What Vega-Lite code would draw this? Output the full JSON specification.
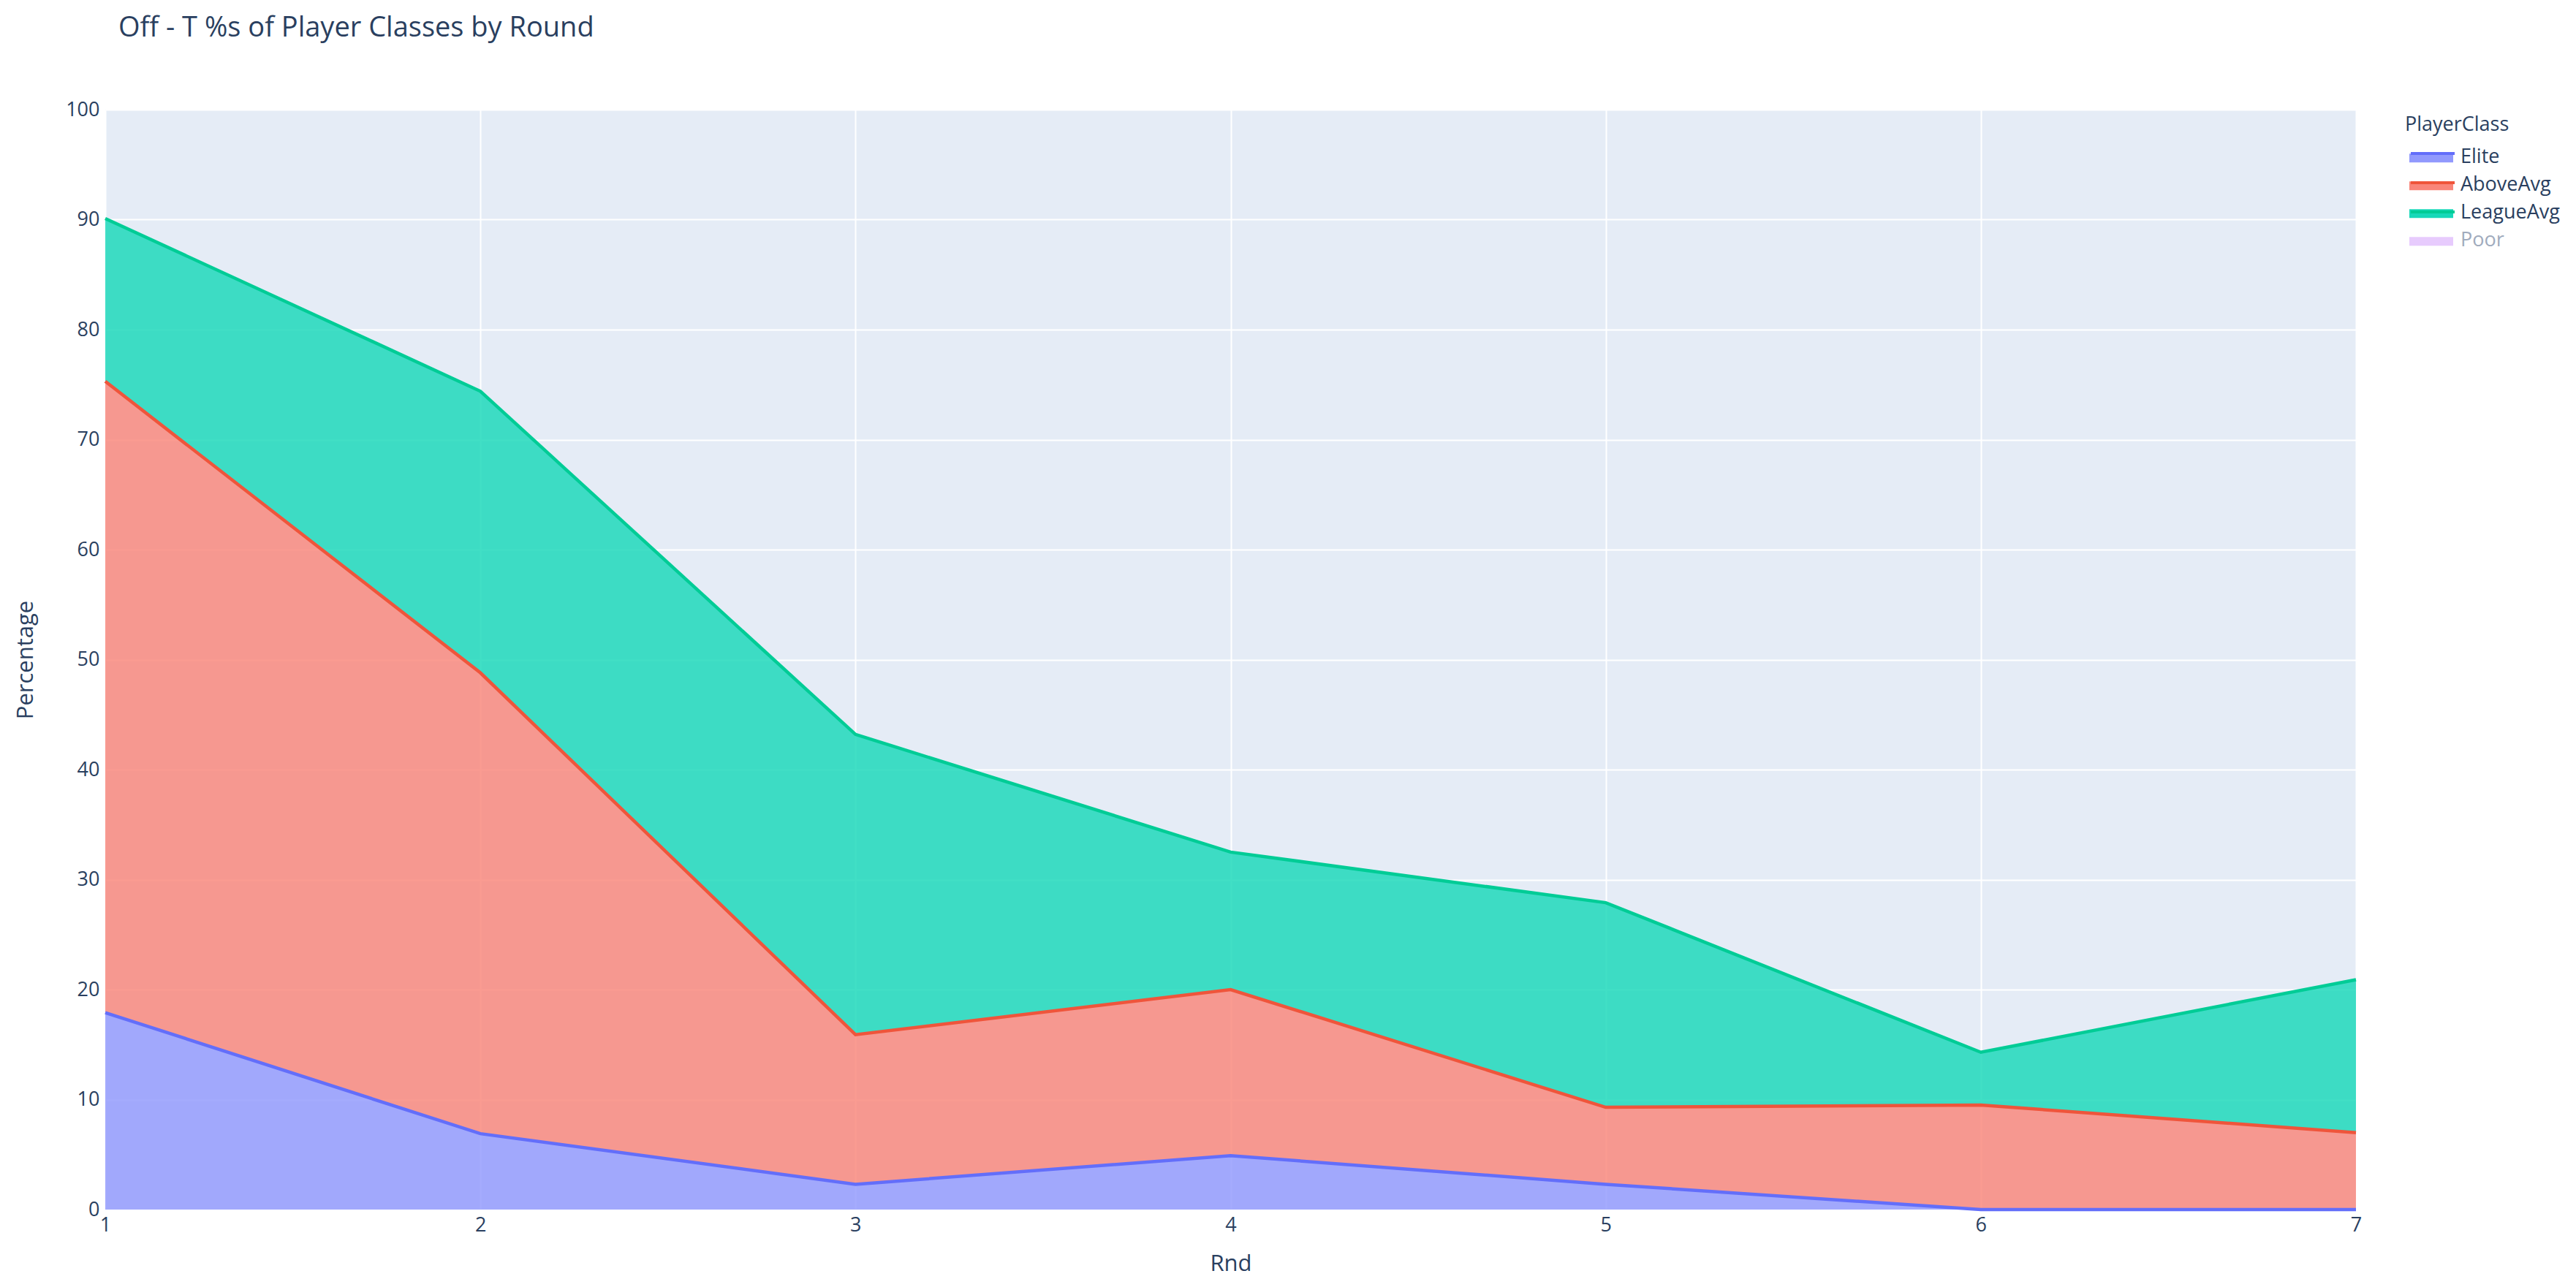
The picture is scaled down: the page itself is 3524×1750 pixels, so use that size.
{
  "$schema": "https://vega.github.io/schema/vega-lite/v6.json",
  "width": 3079,
  "height": 1505,
  "autosize": "none",
  "padding": {"left": 144, "top": 150, "right": 301, "bottom": 95},
  "background": "white",
  "title": {
    "text": "Off - T %s of Player Classes by Round",
    "anchor": "start",
    "frame": "group",
    "dx": 18,
    "offset": 78,
    "font": "Open Sans",
    "fontSize": 38,
    "fontWeight": "normal",
    "color": "#2a3f5f"
  },
  "data": {
    "values": [
      {"Rnd": 1, "PlayerClass": "Elite", "Percentage": 17.9},
      {"Rnd": 2, "PlayerClass": "Elite", "Percentage": 6.9},
      {"Rnd": 3, "PlayerClass": "Elite", "Percentage": 2.3},
      {"Rnd": 4, "PlayerClass": "Elite", "Percentage": 4.9},
      {"Rnd": 5, "PlayerClass": "Elite", "Percentage": 2.3},
      {"Rnd": 6, "PlayerClass": "Elite", "Percentage": 0},
      {"Rnd": 7, "PlayerClass": "Elite", "Percentage": 0},
      {"Rnd": 1, "PlayerClass": "AboveAvg", "Percentage": 57.4},
      {"Rnd": 2, "PlayerClass": "AboveAvg", "Percentage": 41.9},
      {"Rnd": 3, "PlayerClass": "AboveAvg", "Percentage": 13.6},
      {"Rnd": 4, "PlayerClass": "AboveAvg", "Percentage": 15.1},
      {"Rnd": 5, "PlayerClass": "AboveAvg", "Percentage": 7.0},
      {"Rnd": 6, "PlayerClass": "AboveAvg", "Percentage": 9.5},
      {"Rnd": 7, "PlayerClass": "AboveAvg", "Percentage": 7.0},
      {"Rnd": 1, "PlayerClass": "LeagueAvg", "Percentage": 14.8},
      {"Rnd": 2, "PlayerClass": "LeagueAvg", "Percentage": 25.6},
      {"Rnd": 3, "PlayerClass": "LeagueAvg", "Percentage": 27.3},
      {"Rnd": 4, "PlayerClass": "LeagueAvg", "Percentage": 12.5},
      {"Rnd": 5, "PlayerClass": "LeagueAvg", "Percentage": 18.6},
      {"Rnd": 6, "PlayerClass": "LeagueAvg", "Percentage": 4.8},
      {"Rnd": 7, "PlayerClass": "LeagueAvg", "Percentage": 13.9}
    ]
  },
  "transform": [
    {"calculate": "indexof(['Elite', 'AboveAvg', 'LeagueAvg', 'Poor'], datum.PlayerClass)", "as": "stackOrder"},
    {
      "stack": "Percentage",
      "groupby": ["Rnd"],
      "sort": [{"field": "stackOrder", "order": "ascending"}],
      "as": ["lower", "upper"]
    }
  ],
  "encoding": {
    "x": {
      "field": "Rnd",
      "type": "quantitative",
      "title": "Rnd",
      "scale": {"domain": [1, 7], "nice": false, "zero": false},
      "axis": {"values": [1, 2, 3, 4, 5, 6, 7], "format": "d", "titlePadding": 25}
    },
    "y": {
      "field": "upper",
      "type": "quantitative",
      "title": "Percentage",
      "scale": {"domain": [0, 100], "nice": false},
      "axis": {"values": [0, 10, 20, 30, 40, 50, 60, 70, 80, 90, 100], "titlePadding": 38}
    }
  },
  "layer": [
    {
      "mark": {"type": "area", "fillOpacity": 0.82, "interpolate": "linear"},
      "encoding": {
        "y2": {"field": "lower"},
        "color": {
          "field": "PlayerClass",
          "type": "nominal",
          "title": "PlayerClass",
          "scale": {
            "domain": ["Elite", "AboveAvg", "LeagueAvg", "Poor"],
            "range": ["#9199fd", "#f98579", "#17d8b8", "#c98cfb"]
          },
          "legend": {
            "orient": "none",
            "legendX": 3146,
            "legendY": 8,
            "symbolType": "M-2,-0.32H2V0.48H-2Z",
            "symbolSize": 900,
            "symbolOffset": 21,
            "symbolFillOpacity": 0.75,
            "symbolStrokeWidth": 0,
            "labelOffset": 25,
            "rowPadding": 10,
            "titlePadding": 15,
            "encode": {
              "labels": {
                "update": {
                  "fill": {"signal": "datum.value === 'Poor' ? '#a0abbd' : '#2a3f5f'"}
                }
              },
              "symbols": {
                "update": {
                  "opacity": {"signal": "datum.value === 'Poor' ? 0.45 : 1"}
                }
              }
            }
          }
        }
      }
    },
    {
      "mark": {"type": "line", "strokeWidth": 4.5, "interpolate": "linear"},
      "encoding": {
        "stroke": {
          "field": "PlayerClass",
          "type": "nominal",
          "title": "PlayerClass",
          "scale": {
            "domain": ["Elite", "AboveAvg", "LeagueAvg"],
            "range": ["#636efa", "#EF553B", "#00cc96"]
          },
          "legend": {
            "orient": "none",
            "legendX": 3146,
            "legendY": 8,
            "symbolType": "M-2,-0.46H2",
            "symbolSize": 900,
            "symbolOffset": 21,
            "symbolStrokeWidth": 4,
            "labelOffset": 25,
            "rowPadding": 10,
            "titlePadding": 15,
            "titleColor": "transparent",
            "labelColor": "transparent"
          }
        }
      }
    }
  ],
  "config": {
    "view": {"fill": "#E5ECF6", "stroke": null},
    "font": "Open Sans",
    "axis": {
      "domain": false,
      "ticks": false,
      "grid": true,
      "gridColor": "white",
      "gridWidth": 2,
      "labelFlush": false,
      "labelFont": "Open Sans",
      "labelFontSize": 27,
      "labelColor": "#2a3f5f",
      "labelPadding": 8,
      "titleFont": "Open Sans",
      "titleFontSize": 31,
      "titleFontWeight": "normal",
      "titleColor": "#2a3f5f"
    },
    "legend": {
      "titleFont": "Open Sans",
      "titleFontSize": 27,
      "titleFontWeight": "normal",
      "titleColor": "#2a3f5f",
      "labelFont": "Open Sans",
      "labelFontSize": 27,
      "labelColor": "#2a3f5f"
    }
  }
}
